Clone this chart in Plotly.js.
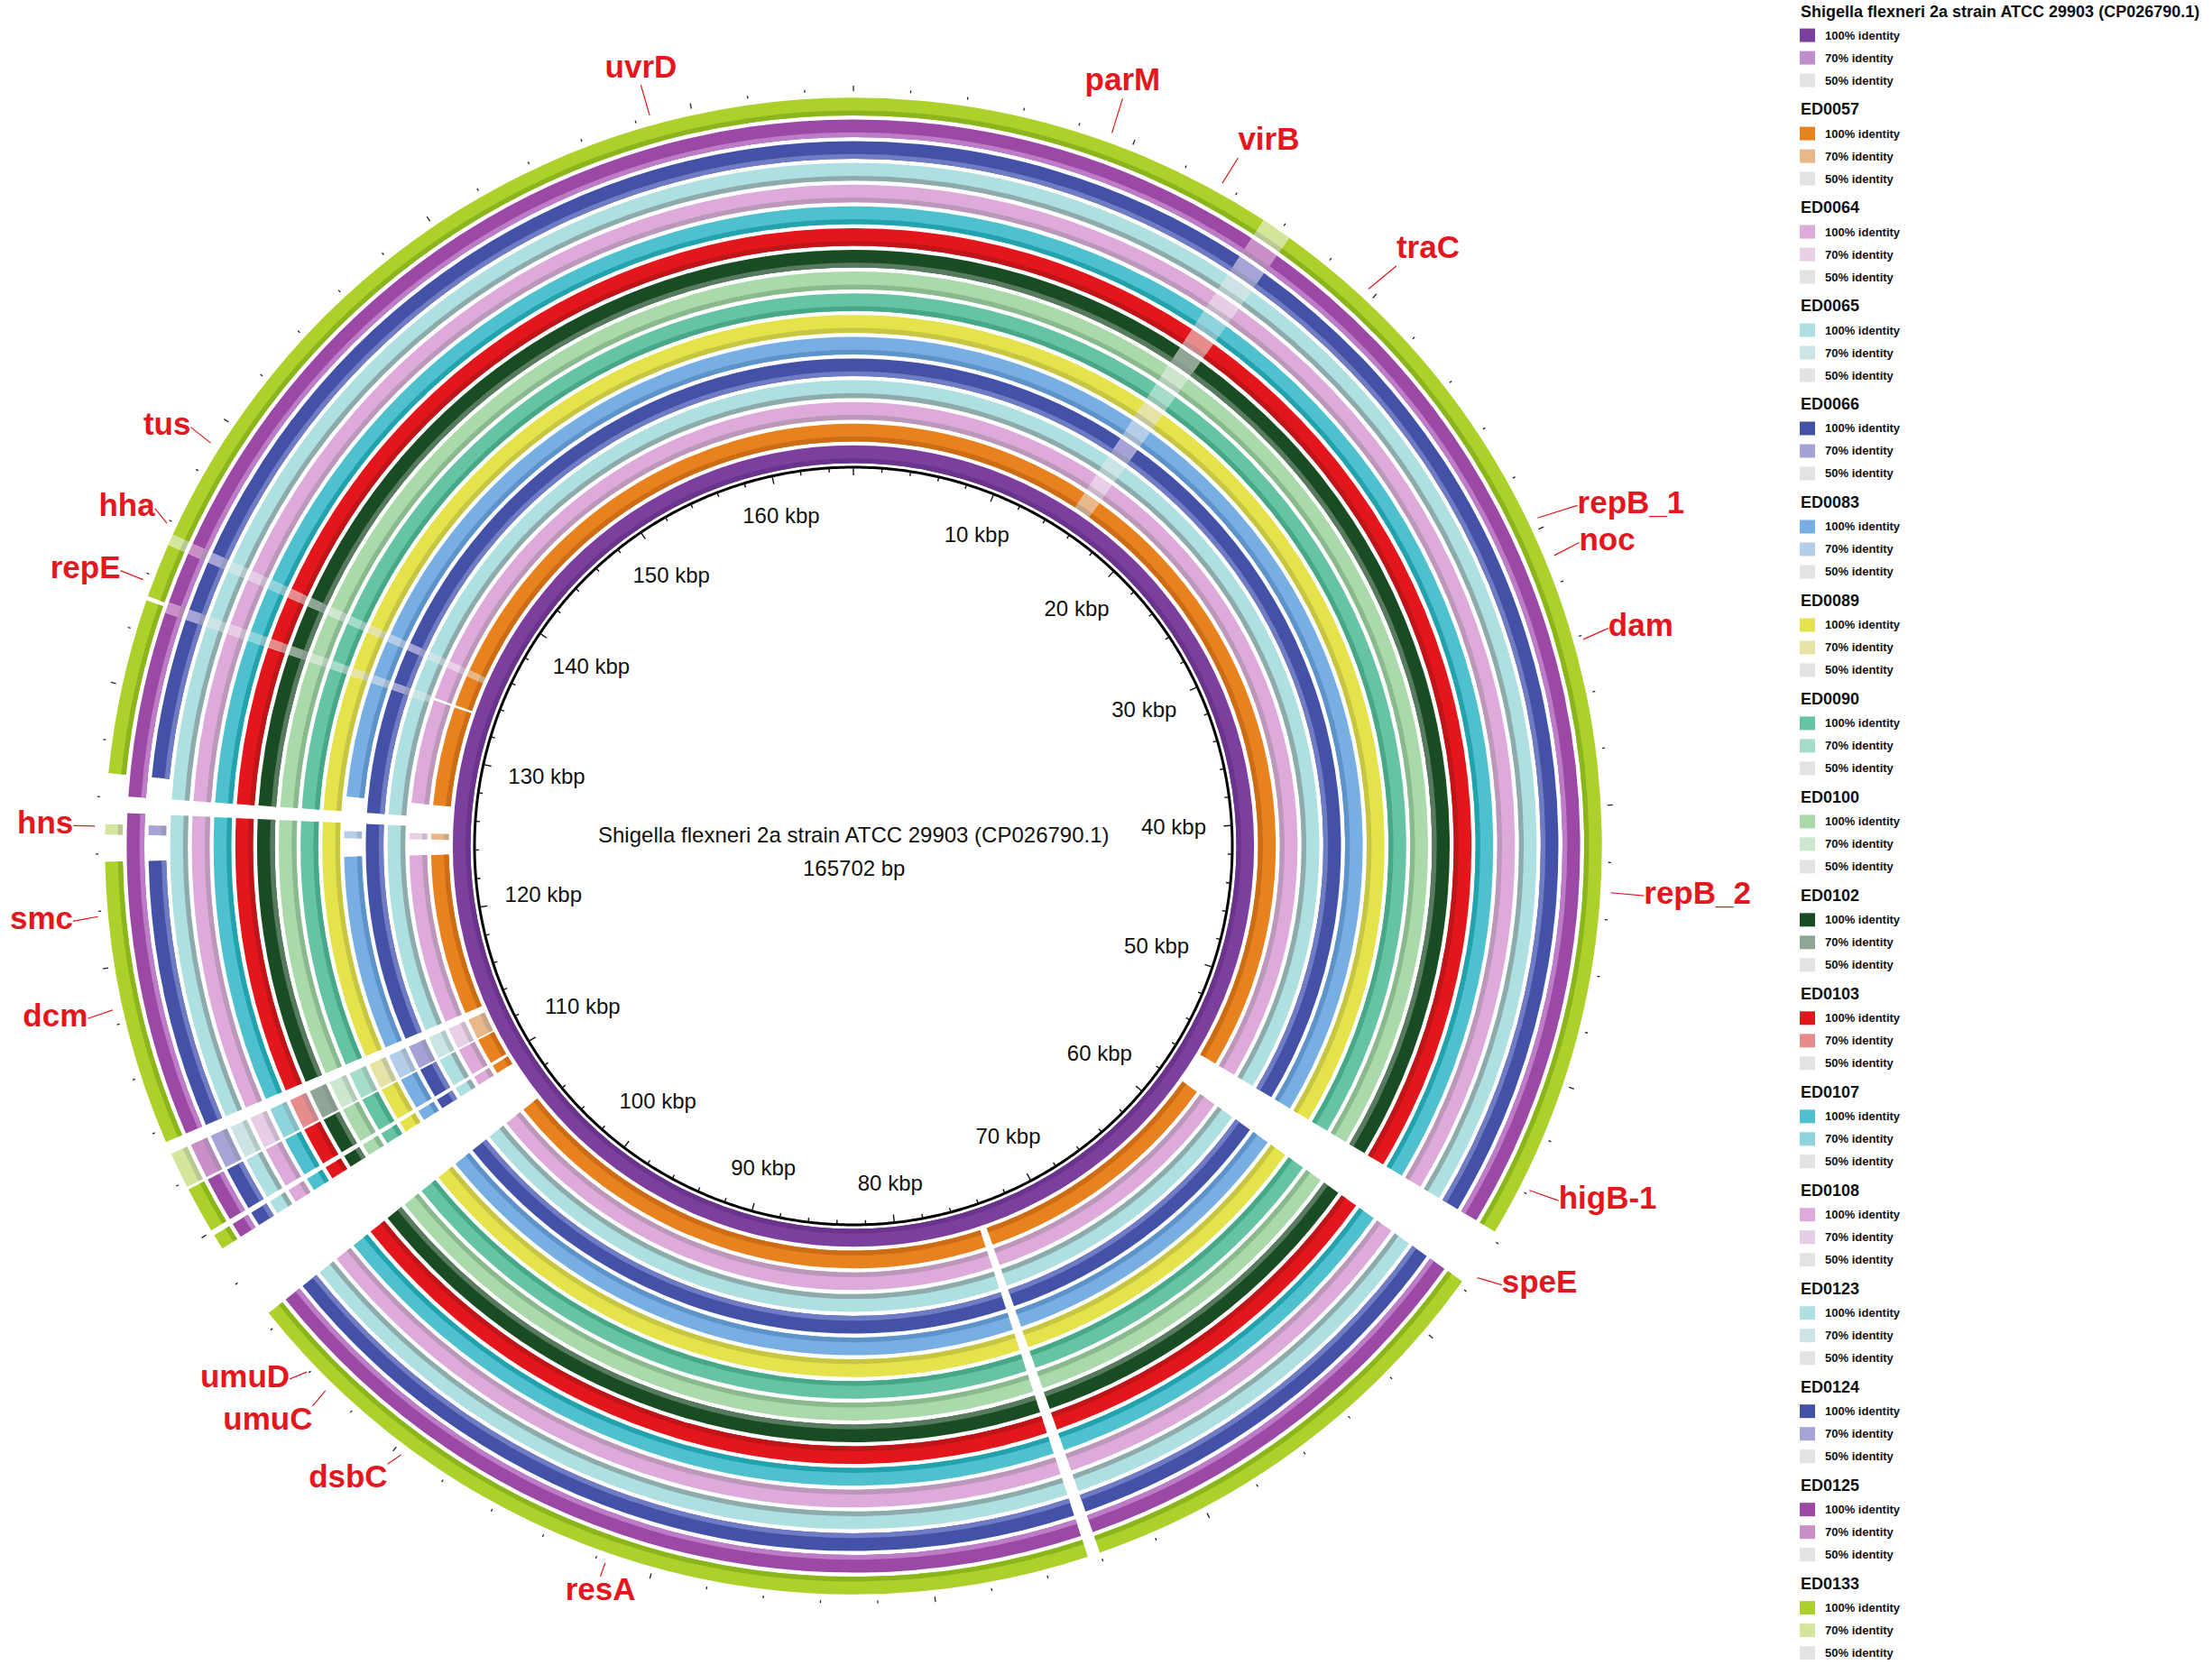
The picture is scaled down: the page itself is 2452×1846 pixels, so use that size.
<!DOCTYPE html>
<html>
<head>
<meta charset="utf-8">
<script src="https://cdn.plot.ly/plotly-3.0.1.min.js"></script>
<style>
html,body{margin:0;padding:0;background:#ffffff;}
#chart{width:2452px;height:1846px;}
</style>
</head>
<body>
<div id="chart"></div>
<script>
// ======================= DATA =======================
const genomeLengthBp = 165702;
const referenceName = 'Shigella flexneri 2a strain ATCC 29903 (CP026790.1)';

// rings from the centre outwards
const ringNames = [referenceName, 'ED0057', 'ED0064', 'ED0065', 'ED0066', 'ED0083', 'ED0089',
  'ED0090', 'ED0100', 'ED0102', 'ED0103', 'ED0107', 'ED0108', 'ED0123', 'ED0124', 'ED0125', 'ED0133'];

const identityLabels = ['100% identity', '70% identity', '50% identity'];

const color100 = ['#7b3f9e', '#e8821e', '#ddaad9', '#aee0e2', '#4352a6', '#78afe2', '#e5e34b',
  '#66c3a6', '#aad9ab', '#194c23', '#e3161c', '#4fc1ce', '#ddaad9', '#aee0e2', '#4352a6', '#9b49a5', '#add12b'];
const color70 = ['#c08ecb', '#e8b78a', '#e9d0e7', '#cbe5e4', '#a5a3d6', '#b4cde8', '#e6e3a6',
  '#a5dccb', '#cde7ce', '#8fa694', '#e88b8d', '#8fd3dc', '#e7cde6', '#cce4e3', '#a6a4d6', '#cb8fc8', '#d4e69b'];
const color50 = '#e3e3e3';

// BLAST hit segments: [start kbp, end kbp, identity %]
const hitsReference = [[0, 165.702, 100]];

const hitsCommon = [
  [0, 15.3, 100], [15.3, 16.4, 70], [16.4, 55.7, 100],
  [57.8, 74.0, 100], [74.45, 106.5, 100],
  [109.3, 109.85, 100], [110.05, 111.7, 100], [111.8, 113.1, 70],
  [113.55, 125.47, 100], [126.07, 132.9, 100], [132.9, 133.3, 70],
  [133.3, 135.2, 100], [135.2, 135.6, 70], [135.6, 165.702, 100]
];

const hitsHnsLoss = [
  [0, 15.3, 100], [15.3, 16.4, 70], [16.4, 55.7, 100],
  [57.8, 74.0, 100], [74.45, 106.5, 100],
  [109.3, 109.85, 100], [110.05, 111.7, 100], [111.8, 113.1, 70],
  [113.55, 123.72, 100], [124.68, 125.05, 70], [126.85, 132.9, 100], [132.9, 133.3, 70],
  [133.3, 135.2, 100], [135.2, 135.6, 70], [135.6, 165.702, 100]
];

const hitsHnsLossCut = [
  [0, 15.3, 100], [15.3, 16.4, 70], [16.4, 55.7, 100],
  [57.8, 74.0, 100], [74.45, 106.5, 100],
  [109.3, 109.85, 100], [110.05, 111.7, 100], [111.8, 113.1, 70],
  [113.55, 123.72, 100], [124.68, 125.05, 70], [126.85, 133.1, 100],
  [133.25, 135.2, 100], [135.2, 135.6, 70], [135.6, 165.702, 100]
];

const ringHits = [hitsReference, hitsHnsLossCut, hitsHnsLossCut, hitsCommon, hitsCommon, hitsHnsLoss,
  hitsCommon, hitsCommon, hitsCommon, hitsCommon, hitsCommon, hitsCommon, hitsCommon, hitsCommon,
  hitsHnsLoss, hitsCommon, hitsHnsLossCut];

// scale ticks (kbp)
const scaleLabelsKbp = [10, 20, 30, 40, 50, 60, 70, 80, 90, 100, 110, 120, 130, 140, 150, 160];

// annotated genes and their positions (kbp)
const geneNames = ['uvrD', 'parM', 'virB', 'traC', 'repB_1', 'noc', 'dam', 'repB_2', 'higB-1', 'speE',
  'resA', 'dsbC', 'umuC', 'umuD', 'dcm', 'smc', 'hns', 'repE', 'hha', 'tus'];
const genePosKbp = [158.53, 9.17, 13.39, 19.68, 29.63, 31.06, 34.15, 43.05, 53.85, 57.39,
  91.64, 99.70, 103.15, 104.07, 118.53, 121.82, 124.97, 133.74, 135.87, 139.05];

// ======================= LAYOUT / STYLE =======================
const W = 2452, H = 1846;
const CX = 946, CY = 938, R = 908;           // polar centre and radius in px (1 radial unit = 1 px)
const RING_INNER0 = 424.5, RING_PITCH = 24.1, RING_THICK = 19.6, STRIPE_FRAC = 0.27;
const stripe100 = ['#6a338c', '#cc6c14', '#bb97b9', '#8eaaab', '#6f7cc3', '#5d93c9', '#c7c643',
  '#47a789', '#8bb98e', '#587b5f', '#bf1418', '#22a2ad', '#bb97b9', '#8eaaab', '#6f7cc3', '#bd7dc6', '#8cb51d'];
// label anchor (angle deg, radius) and text placement for each gene label
const labelAngle = [344.4, 19.8, 29.2, 43.1, 64.8, 67.3, 73.9, 93.6, 116.7, 124.1,
  199.1, 217.0, 224.0, 226.6, 257.3, 264.5, 271.5, 290.6, 295.8, 302.3];
const labelRadius = [876, 881, 874, 881, 887, 872, 871, 878, 875, 868,
  857, 858, 863, 860, 870, 869, 865, 868, 860, 869];
const labelPos = ['top center', 'top center', 'top right', 'top right', 'middle right', 'middle right',
  'middle right', 'middle right', 'middle right', 'middle right', 'bottom center', 'bottom left',
  'bottom left', 'middle left', 'middle left', 'middle left', 'middle left', 'middle left', 'middle left', 'middle left'];

const FONT = 'Liberation Sans, Arial, Helvetica, sans-serif';
const RED = '#e3171d';

const kbpToDeg = k => k * 1000 / genomeLengthBp * 360;

function mix(c1, c2, t) {
  const a = parseInt(c1.slice(1), 16), b = parseInt(c2.slice(1), 16);
  const ch = s => Math.round(((a >> s) & 255) * (1 - t) + ((b >> s) & 255) * t);
  return 'rgb(' + ch(16) + ',' + ch(8) + ',' + ch(0) + ')';
}

const traces = [];

// ---- identity rings ----
ringNames.forEach((name, i) => {
  const inner = RING_INNER0 + i * RING_PITCH;
  const segs = ringHits[i];
  const theta = segs.map(s => kbpToDeg((s[0] + s[1]) / 2));
  const width = segs.map(s => kbpToDeg(s[1] - s[0]));
  const mainCol = segs.map(s => s[2] >= 100 ? color100[i] : (s[2] >= 70 ? color70[i] : color50));
  const stripeCol = segs.map(s => s[2] >= 100 ? stripe100[i] : (s[2] >= 70 ? mix(color70[i], '#6f7f80', 0.28) : '#cccccc'));
  traces.push({
    type: 'barpolar', name: name, theta: theta, width: width,
    r: segs.map(() => RING_THICK), base: segs.map(() => inner),
    marker: {color: mainCol, line: {width: 0}}, hoverinfo: 'skip', showlegend: false
  });
  traces.push({
    type: 'barpolar', name: name + ' shade', theta: theta, width: width,
    r: segs.map(() => RING_THICK * STRIPE_FRAC), base: segs.map(() => inner),
    marker: {color: stripeCol, line: {width: 0}}, hoverinfo: 'skip', showlegend: false
  });
});

// ---- backbone circle ----
const circT = [], circR = [];
for (let a = 0; a <= 360; a += 0.5) { circT.push(a); circR.push(420); }
traces.push({type: 'scatterpolar', mode: 'lines', theta: circT, r: circR,
  line: {color: '#000000', width: 3}, hoverinfo: 'skip', showlegend: false});

// ---- ticks (inner and outer), every 2 kbp, long every 10 kbp ----
const tiT = [], tiR = [], toT = [], toR = [];
for (let k = 0; k < genomeLengthBp / 1000; k += 2) {
  const major = (k % 10 === 0);
  const t = kbpToDeg(k);
  tiT.push(t, t, null); tiR.push(420, major ? 411 : 415, null);
  toT.push(t, t, null); toR.push(837, major ? 843 : 840, null);
}
traces.push({type: 'scatterpolar', mode: 'lines', theta: tiT, r: tiR, connectgaps: false,
  line: {color: '#111111', width: 1.4}, hoverinfo: 'skip', showlegend: false, cliponaxis: false});
traces.push({type: 'scatterpolar', mode: 'lines', theta: toT, r: toR, connectgaps: false,
  line: {color: '#222222', width: 1.3}, hoverinfo: 'skip', showlegend: false, cliponaxis: false});

// ---- scale labels inside the backbone ----
const slT = [], slR = [], slTxt = [];
scaleLabelsKbp.forEach(k => {
  const t = kbpToDeg(k);
  const txt = k + ' kbp';
  const halfW = 24 * (0.556 * String(k).length + 1.89) / 2;
  const halfH = 10;
  const rad = t * Math.PI / 180;
  slT.push(t);
  slR.push(392 - (halfW * Math.abs(Math.sin(rad)) + halfH * Math.abs(Math.cos(rad))));
  slTxt.push(txt);
});
traces.push({type: 'scatterpolar', mode: 'text', theta: slT, r: slR, text: slTxt,
  textposition: 'middle center', textfont: {family: FONT, size: 24, color: '#111111'},
  hoverinfo: 'skip', showlegend: false, cliponaxis: false});

// ---- gene labels with leader lines ----
const llT = [], llR = [];
geneNames.forEach((g, j) => {
  llT.push(kbpToDeg(genePosKbp[j]), labelAngle[j], null);
  llR.push(841, labelRadius[j], null);
});
traces.push({type: 'scatterpolar', mode: 'lines', theta: llT, r: llR, connectgaps: false,
  line: {color: RED, width: 1.2}, hoverinfo: 'skip', showlegend: false, cliponaxis: false});
traces.push({type: 'scatterpolar', mode: 'text', theta: labelAngle, r: labelRadius,
  text: geneNames.map(g => '<b>' + g + '</b>'), textposition: labelPos,
  textfont: {family: FONT, size: 35, color: RED},
  hoverinfo: 'skip', showlegend: false, cliponaxis: false});

// ---- legend (drawn with shapes + annotations) ----
const px = x => x / W, py = y => 1 - y / H;
const shapes = [], annotations = [];
const LEG_X = 1994, SW_X = 1995, SW_W = 17, SW_H = 15, TXT_X = 2021;
const LEG_TOP = 12.5, GROUP_PITCH = 108.97, ROW_OFF = [26.6, 51.6, 76.6];
ringNames.forEach((name, i) => {
  const y0 = LEG_TOP + i * GROUP_PITCH;
  annotations.push({x: px(LEG_X), y: py(y0), xref: 'paper', yref: 'paper', xanchor: 'left', yanchor: 'middle',
    showarrow: false, text: '<b>' + name + '</b>', font: {family: FONT, size: 18, color: '#111111'}});
  const cols = [color100[i], color70[i], color50];
  identityLabels.forEach((lab, k) => {
    const yc = y0 + ROW_OFF[k];
    shapes.push({type: 'rect', xref: 'paper', yref: 'paper', x0: px(SW_X), x1: px(SW_X + SW_W),
      y0: py(yc - SW_H / 2), y1: py(yc + SW_H / 2), fillcolor: cols[k], line: {width: 0}});
    annotations.push({x: px(TXT_X), y: py(yc), xref: 'paper', yref: 'paper', xanchor: 'left', yanchor: 'middle',
      showarrow: false, text: '<b>' + lab + '</b>', font: {family: FONT, size: 13, color: '#111111'}});
  });
});

// ---- centre title ----
annotations.push({x: px(CX), y: py(926), xref: 'paper', yref: 'paper', xanchor: 'center', yanchor: 'middle',
  showarrow: false, text: referenceName, font: {family: FONT, size: 24, color: '#111111'}});
annotations.push({x: px(CX), y: py(962), xref: 'paper', yref: 'paper', xanchor: 'center', yanchor: 'middle',
  showarrow: false, text: genomeLengthBp + ' bp', font: {family: FONT, size: 24, color: '#111111'}});

const layout = {
  width: W, height: H,
  margin: {l: 0, r: 0, t: 0, b: 0, pad: 0},
  paper_bgcolor: '#ffffff',
  showlegend: false,
  polar: {
    domain: {x: [(CX - R) / W, (CX + R) / W], y: [(H - CY - R) / H, (H - CY + R) / H]},
    bgcolor: 'rgba(0,0,0,0)',
    barmode: 'overlay',
    hole: 0,
    radialaxis: {range: [0, R], visible: false, showgrid: false, showline: false, showticklabels: false, ticks: ''},
    angularaxis: {rotation: 90, direction: 'clockwise', visible: false, showgrid: false, showline: false,
      showticklabels: false, ticks: ''}
  },
  shapes: shapes,
  annotations: annotations
};

Plotly.newPlot('chart', traces, layout, {staticPlot: true, displayModeBar: false});
</script>
</body>
</html>
